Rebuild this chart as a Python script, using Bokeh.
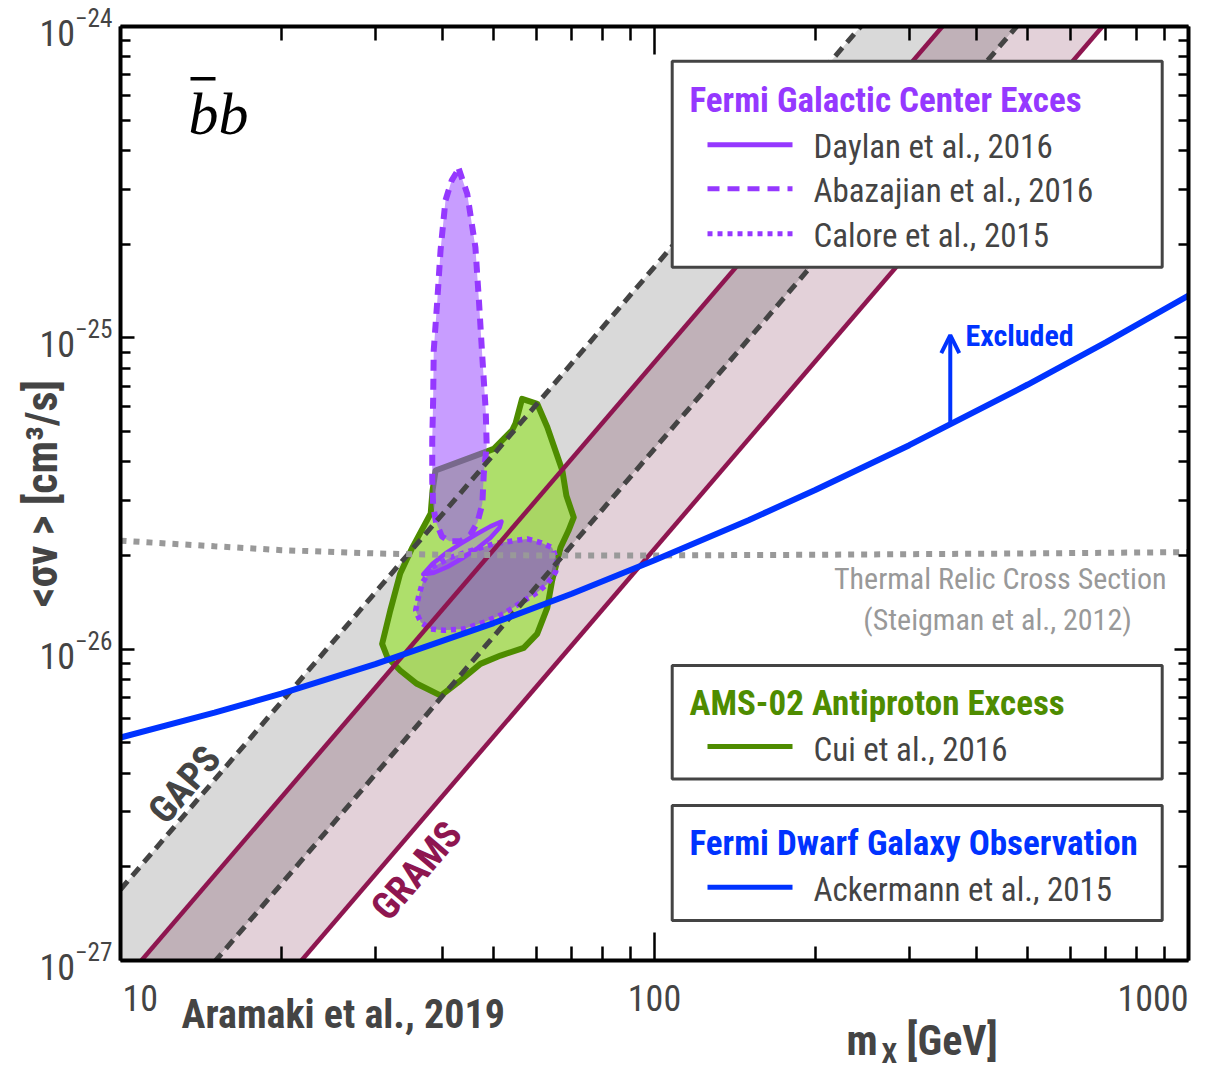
import numpy as np
from bokeh.plotting import figure
from bokeh.layouts import column
from bokeh.embed import file_html
from bokeh.resources import INLINE
from bokeh.models import Label, Arrow, OpenHead, LogAxis, FixedTicker

# ---------------- data ----------------
# projected sensitivity bands: straight lines in log-log, values at m = 10 and 1000 GeV
band_m = [10, 1000]
gaps_upper_sv = [1.69e-27, 1.69e-23]
gaps_lower_sv = [4.4e-28, 4.4e-24]
grams_upper_sv = [8.35e-28, 8.35e-24]
grams_lower_sv = [2.1e-28, 2.1e-24]

# AMS-02 antiproton excess (Cui et al., 2016); sigma v in units of 1e-26 cm^3/s
cui_m = [56.5, 60.3, 63.0, 67.2, 68.4, 70.6, 69.0, 66.7, 64.3, 63.0, 60.3, 56.9, 51.5, 47.2, 43.3,
         39.8, 35.9, 33.4, 31.6, 30.9, 32.0, 33.4, 35.2, 38.1, 38.4, 38.9, 48.6, 50.0, 54.1, 54.9]
cui_sv26 = [6.37, 6.14, 5.16, 3.75, 3.11, 2.65, 2.40, 2.12, 1.66, 1.36, 1.12, 1.01, 0.954, 0.897, 0.793,
            0.709, 0.774, 0.854, 0.942, 1.04, 1.33, 1.75, 2.12, 2.73, 3.23, 3.75, 4.32, 4.40, 5.04, 5.30]

# Fermi GCE (Abazajian et al., 2016)
abaz_m = [43.0, 44.6, 46.2, 46.9, 47.6, 48.3, 48.5, 47.9, 47.6, 46.6, 45.2, 43.3, 41.3, 40.0, 39.0,
          38.5, 38.35, 38.35, 38.5, 38.6, 39.2, 39.75, 40.6, 41.7]
abaz_sv26 = [34.9, 29.0, 19.5, 13.2, 8.66, 5.84, 4.51, 3.66, 2.93, 2.55, 2.33, 2.22, 2.22, 2.30, 2.55,
             2.89, 3.48, 4.68, 6.29, 9.10, 13.2, 19.1, 27.6, 32.0]

# Fermi GCE (Calore et al., 2015)
calore_m = [38.35, 41.5, 45.2, 50.0, 54.5, 57.8, 61.2, 64.3, 65.7, 65.3, 63.0, 60.3, 56.9, 52.2, 47.9,
            43.9, 40.3, 38.1, 36.5, 35.7, 36.2, 36.8]
calore_sv26 = [1.83, 1.97, 2.07, 2.18, 2.23, 2.26, 2.20, 2.12, 1.93, 1.77, 1.62, 1.52, 1.43, 1.30, 1.22,
               1.16, 1.15, 1.16, 1.22, 1.33, 1.49, 1.64]

# Fermi GCE (Daylan et al., 2016)
daylan_m = [36.9, 38.4, 40.6, 43.3, 46.2, 49.3, 51.7, 51.3, 49.3, 46.8, 43.9, 41.0, 38.6]
daylan_sv26 = [1.74, 1.88, 2.03, 2.18, 2.33, 2.48, 2.57, 2.46, 2.28, 2.12, 1.97, 1.84, 1.76]

# Fermi dwarf galaxy limit (Ackermann et al., 2015)
dwarf_m = [10, 15, 20, 30, 50, 70, 100, 150, 200, 300, 500, 700, 1000]
dwarf_sv26 = [0.520, 0.625, 0.720, 0.895, 1.213, 1.506, 1.93, 2.595, 3.245, 4.52, 7.08, 9.67, 13.67]

# thermal relic cross section (Steigman et al., 2012)
thermal_m = [10, 15, 20, 30, 40, 60, 100, 200, 500, 1000]
thermal_sv26 = [2.23, 2.14, 2.08, 2.03, 2.01, 2.00, 2.00, 2.01, 2.03, 2.05]

# "Excluded" arrow
excl_m = 358
excl_sv26 = [5.26, 10.2]

xtick_vals = [10, 100, 1000]
xtick_labels = ["10", "100", "1000"]
x_minor = [k * 10 ** e for e in (1, 2) for k in range(2, 10)]
y_major = [1e-27, 1e-26, 1e-25, 1e-24]
y_minor = [k * 10.0 ** e for e in (-27, -26, -25) for k in range(2, 10)]

U = 1e-26
FONT = "Roboto Condensed"
PURPLE = "#9538ff"
GREEN = "#4e8c00"
BLUE = "#0033ff"
MAROON = "#8e1650"
DARK = "#444444"

# main plot: frame at page (120, 26), 1068 x 934
p = figure(x_axis_type="log", y_axis_type="log", x_range=(10, 1000), y_range=(1e-27, 1e-24),
           frame_width=1068, frame_height=934, min_border_left=120, min_border_right=16,
           min_border_top=26, min_border_bottom=22, output_backend="svg", toolbar_location=None)
p.grid.visible = False
p.outline_line_color = None
p.background_fill_color = "white"
p.border_fill_color = "white"

# bands
m = band_m
p.patch(m + m[::-1], gaps_upper_sv + grams_upper_sv[::-1], fill_color="#d9d9d9", line_color=None)
p.patch(m + m[::-1], grams_upper_sv + gaps_lower_sv[::-1], fill_color="#c0b1b8", line_color=None)
p.patch(m + m[::-1], gaps_lower_sv + grams_lower_sv[::-1], fill_color="#e3d1d9", line_color=None)

# regions
p.patch(cui_m, [v * U for v in cui_sv26], fill_color="#a2e04f", fill_alpha=0.8,
        line_color=GREEN, line_width=6, line_join="round")
p.patch(abaz_m, [v * U for v in abaz_sv26], fill_color="#9b4dff", fill_alpha=0.55,
        line_color=PURPLE, line_width=6, line_dash="11 8")
p.patch(calore_m, [v * U for v in calore_sv26], fill_color="#8c5ac8", fill_alpha=0.7,
        line_color=PURPLE, line_width=5.5, line_dash="5 5")
p.patch(daylan_m, [v * U for v in daylan_sv26], fill_color="#9b4dff", fill_alpha=0.3,
        line_color=PURPLE, line_width=4.5, line_join="round")

# band edges
p.line(band_m, gaps_upper_sv, line_color=DARK, line_width=5, line_dash="11 7")
p.line(band_m, gaps_lower_sv, line_color=DARK, line_width=5, line_dash="11 7")
p.line(band_m, grams_upper_sv, line_color=MAROON, line_width=4.5)
p.line(band_m, grams_lower_sv, line_color=MAROON, line_width=4.5)

# thermal relic
p.line(thermal_m, [v * U for v in thermal_sv26], line_color="#999999", line_width=6, line_dash="6 7")
# dwarf limit
p.line(dwarf_m, [v * U for v in dwarf_sv26], line_color=BLUE, line_width=6)
p.add_layout(Arrow(end=OpenHead(size=18, line_color=BLUE, line_width=4), x_start=excl_m,
                   y_start=excl_sv26[0] * U, x_end=excl_m, y_end=excl_sv26[1] * U,
                   line_color=BLUE, line_width=4))

# axes
xt = FixedTicker(ticks=xtick_vals, minor_ticks=x_minor)
yt = FixedTicker(ticks=y_major, minor_ticks=y_minor)
p.xaxis.ticker = xt
p.yaxis.ticker = yt
p.add_layout(LogAxis(ticker=xt), "above")
p.add_layout(LogAxis(ticker=yt), "right")
for ax in p.axis:
    ax.axis_line_width = 4
    ax.axis_line_color = "black"
    ax.major_tick_out = 0
    ax.minor_tick_out = 0
    ax.major_tick_line_width = 2.5
    ax.minor_tick_line_width = 2.5
    ax.major_tick_line_color = "black"
    ax.minor_tick_line_color = "black"
for ax in p.xaxis + p.above:
    ax.major_tick_in = 28
    ax.minor_tick_in = 14
for ax in p.yaxis + p.right:
    ax.major_tick_in = 14
    ax.minor_tick_in = 10
for ax in (p.below[0], p.above[0], p.right[0]):
    ax.major_label_text_font_size = "2px"
    ax.major_label_text_alpha = 0.0
    ax.major_label_standoff = 0
yax = p.yaxis[0]
yax.major_label_text_font = FONT
yax.major_label_text_font_size = "36px"
yax.major_label_text_color = DARK
yax.major_label_standoff = 8
yax.axis_label = "<σv > [cm³/s]"
yax.axis_label_text_font = FONT
yax.axis_label_text_font_size = "44px"
yax.axis_label_text_font_style = "bold"
yax.axis_label_text_color = DARK
yax.axis_label_standoff = -32


# ---- page pixel -> data position helpers (annotation placement only) ----
def X(px):
    return 10 ** (1 + (px - 120) / 534.0)


def Y(py):
    return 10 ** (-24 - (py - 26) / 311.3)


def lab(text, px, py, size, color=DARK, bold=False, align="left", angle=0.0, font=FONT, italic=False):
    style = "bold" if bold else ("italic" if italic else "normal")
    p.add_layout(Label(x=X(px), y=Y(py), text=text, text_font=font, text_font_size=f"{size}px",
                       text_color=color, text_font_style=style, text_align=align,
                       text_baseline="middle", angle=angle))


def seg(x0, x1, py, color, width, dash="solid"):
    p.line([X(x0), X(x1)], [Y(py), Y(py)], line_color=color, line_width=width, line_dash=dash)


def box(x0, y0, x1, y1):
    p.quad(left=X(x0), right=X(x1), top=Y(y0), bottom=Y(y1), fill_color="white",
           line_color=DARK, line_width=3)


# channel label  b-bar b
lab("bb", 188, 113, 60, color="black", italic=True, font="Liberation Serif")
p.quad(left=X(190), right=X(215), top=Y(76.5), bottom=Y(80), fill_color="black", line_color=None)

# band labels
ang = np.arctan(1.165)
lab("GAPS", 184, 784, 38, bold=True, align="center", angle=ang)
lab("GRAMS", 416, 870, 38, bold=True, color=MAROON, align="center", angle=ang)

# thermal relic text
lab("Thermal Relic Cross Section", 1166, 578, 30, color="#999999", align="right")
lab("(Steigman et al., 2012)", 997, 619, 30, color="#999999", align="center")
lab("Excluded", 965, 335, 30, color=BLUE, bold=True)

# legend 1
box(671.7, 60.7, 1161.7, 266.7)
lab("Fermi Galactic Center Exces", 689, 99.6, 35, color=PURPLE, bold=True)
seg(707, 792, 144.3, PURPLE, 5)
lab("Daylan et al., 2016", 813, 145.6, 33)
seg(707, 792, 188.3, PURPLE, 5, "12 8")
lab("Abazajian et al., 2016", 813, 190.3, 33)
seg(707, 792, 233.3, PURPLE, 5, "5 5")
lab("Calore et al., 2015", 813, 235.3, 33)

# legend 2
box(671.7, 665, 1161.7, 778.3)
lab("AMS-02 Antiproton Excess", 689, 703, 35, color=GREEN, bold=True)
seg(707, 792, 746, GREEN, 5)
lab("Cui et al., 2016", 813, 748.6, 33)

# legend 3
box(671.7, 805, 1161.7, 920)
lab("Fermi Dwarf Galaxy Observation", 689, 843, 35, color=BLUE, bold=True)
seg(707, 792, 886.7, BLUE, 5)
lab("Ackermann et al., 2015", 813, 888.6, 33)

# ---- strip under the plot (page y 982..1070) for x tick labels and x titles ----
# its frame is aligned with the main frame (page x 120..1188), so x here is the page pixel
TOP = 982
HB = 88
pb = figure(width=1204, height=HB, x_range=(120, 1188), y_range=(0, HB), min_border=0,
            min_border_left=120, min_border_right=16,
            output_backend="svg", toolbar_location=None, x_axis_location=None, y_axis_location=None)
pb.grid.visible = False
pb.outline_line_color = None
pb.background_fill_color = "white"
pb.border_fill_color = "white"


def blab(text, px, py, size, bold=False, align="left"):
    pb.add_layout(Label(x=px, y=TOP + HB - py, text=text, text_font=FONT, text_font_size=f"{size}px",
                        text_color=DARK, text_font_style="bold" if bold else "normal",
                        text_align=align, text_baseline="middle"))


# x tick labels at the positions of their ticks on the log axis
tick_px = [120 + 534 * np.log10(v / 10.0) for v in xtick_vals]
tick_off = [2, 0, 0]
tick_align = ["left", "center", "right"]
for px, t, o, a in zip(tick_px, xtick_labels, tick_off, tick_align):
    blab(t, px + o, 997, 36, align=a)

blab("Aramaki et al., 2019", 181, 1014, 40, bold=True)
blab("m", 846, 1040, 42, bold=True)
blab("X", 881, 1053, 28, bold=True)
blab("[GeV]", 906, 1040, 42, bold=True)

open("out.html", "w").write(file_html(column(p, pb), INLINE))
